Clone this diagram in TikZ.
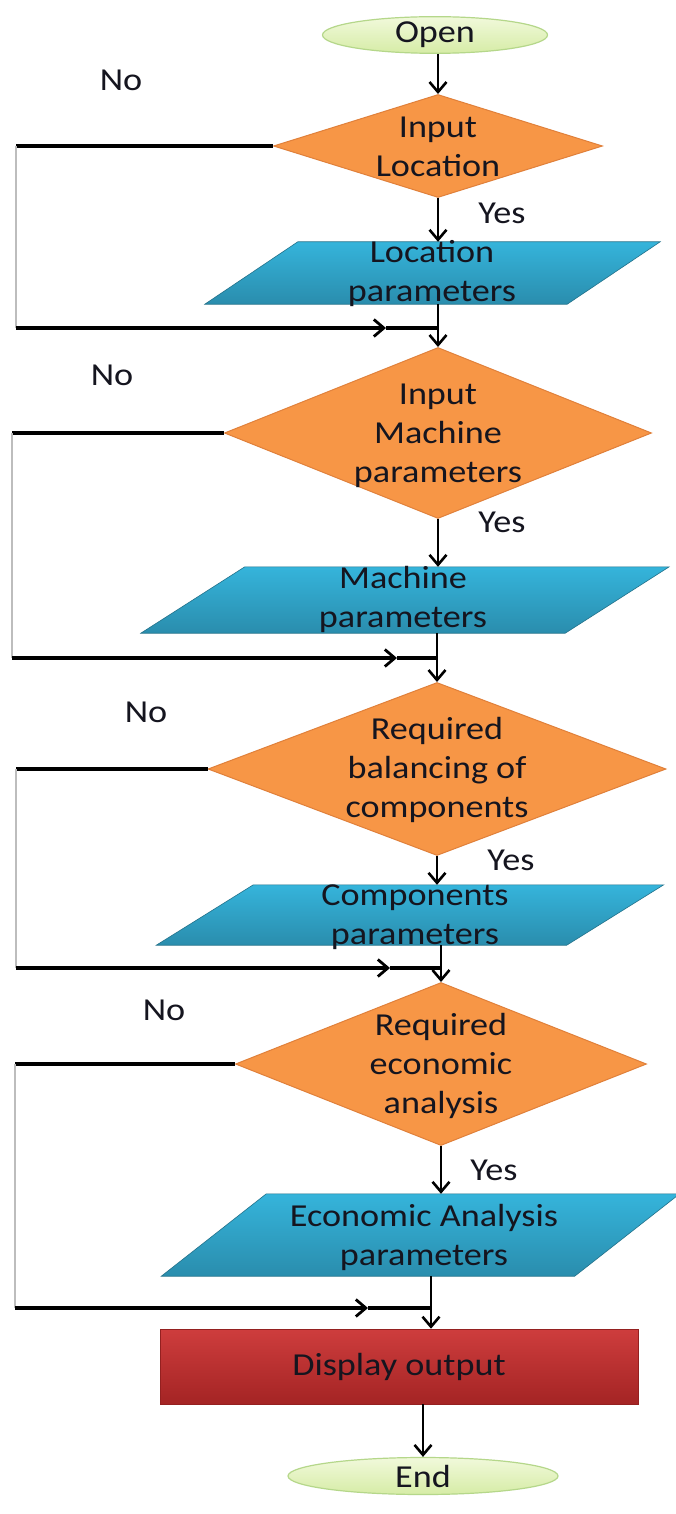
\documentclass[tikz,border=0pt]{standalone}
\usepackage{fontspec}
\setmainfont{Carlito}[FakeStretch=1.13]
\usetikzlibrary{arrows.meta,shapes.geometric,calc}
\definecolor{txtcol}{HTML}{15151F}
\definecolor{orfill}{HTML}{F79646}
\definecolor{ordraw}{HTML}{E0803A}
\definecolor{bltop}{HTML}{35B4DB}
\definecolor{blbot}{HTML}{2A8DAD}
\definecolor{grtop}{HTML}{F1F9DB}
\definecolor{grbot}{HTML}{D6ECA6}
\definecolor{grdraw}{HTML}{B5D78A}
\definecolor{rdtop}{HTML}{CE3D3D}
\definecolor{rdbot}{HTML}{A42424}
\definecolor{vgray}{HTML}{BDBDBD}
\newcommand{\paraShape}[2]{%
  \shade[top color=bltop,bottom color=blbot,draw=blbot!80!black,line width=0.6pt]
    ($(#1.north west)+(#2/2,0)$) -- ($(#1.north east)+(#2/2,0)$) --
    ($(#1.south east)+(-#2/2,0)$) -- ($(#1.south west)+(-#2/2,0)$) -- cycle;}
\begin{document}
\begin{tikzpicture}[x=1pt,y=-1pt,
  txt/.style={font=\fontsize{32}{39}\selectfont, align=center, text=txtcol, inner sep=0pt},
  term/.style={ellipse, draw=grdraw, line width=1.2pt, top color=grtop, bottom color=grbot,
    inner sep=0pt, text=txtcol, font=\fontsize{32}{39}\selectfont},
  dec/.style={diamond, draw=ordraw, fill=orfill, line width=1pt, inner sep=0pt},
  pbox/.style={rectangle, inner sep=0pt},
  outbox/.style={rectangle, top color=rdtop, bottom color=rdbot, draw=rdbot!90!black, line width=0.6pt, inner sep=0pt},
  arr/.style={line width=2.8pt, draw=black, -{Straight Barb[length=10pt,width=17pt,line width=2.6pt]}},
  trunk/.style={line width=2.8pt, draw=black},
  hline/.style={line width=3.6pt, draw=black},
  harr/.style={line width=3.6pt, draw=black, -{Straight Barb[length=10pt,width=17pt,line width=2.8pt]}},
  vline/.style={line width=1.6pt, draw=vgray}
]
\fill[white] (0,0) rectangle (675,1514);
\useasboundingbox (0,0) rectangle (675,1514);

% shapes
\node[term, minimum width=225pt, minimum height=36pt] (open) at (435,35) {Open};
\node[dec, minimum width=329pt, minimum height=103pt] (d1) at (438,146) {};
\node[pbox, minimum width=362pt, minimum height=62pt] (p1) at (432.5,273) {};
\paraShape{p1}{93}
\node[dec, minimum width=427pt, minimum height=171pt] (d2) at (438,433) {};
\node[pbox, minimum width=424pt, minimum height=66pt] (p2) at (405,600) {};
\paraShape{p2}{104}
\node[dec, minimum width=458pt, minimum height=173pt] (d3) at (437,769) {};
\node[pbox, minimum width=410pt, minimum height=60pt] (p3) at (410,915) {};
\paraShape{p3}{97}
\node[dec, minimum width=411pt, minimum height=163pt] (d4) at (441,1064) {};
\node[pbox, minimum width=413pt, minimum height=82pt] (p4) at (420.5,1235) {};
\paraShape{p4}{105}
\node[outbox, minimum width=478pt, minimum height=75pt] (disp) at (399,1366.5) {};
\node[term, minimum width=270pt, minimum height=37pt] (endn) at (423,1476) {End};

% texts
\node[txt] (t1) at (438,147) {Input\\Location};
\node[txt] (tp1) at (432,274) {Location\\parameters};
\node[txt] (t2) at (438,436) {Input\\Machine\\parameters};
\node[txt] (tp2) at (403,599) {Machine\\parameters};
\node[txt] (t3) at (437,770) {Required\\balancing of\\components};
\node[txt] (tp3) at (415,917) {Components\\parameters};
\node[txt] (t4) at (441,1066) {Required\\economic\\analysis};
\node[txt] (tp4) at (424,1237) {Economic Analysis\\parameters};
\node[txt] (td) at (399,1367) {Display output};

\node[txt] (no1) at (121,80) {No};
\node[txt] (no2) at (112,375) {No};
\node[txt] (no3) at (146,712) {No};
\node[txt] (no4) at (164,1010) {No};
\node[txt] (yes1) at (502,213) {Yes};
\node[txt] (yes2) at (502,522) {Yes};
\node[txt] (yes3) at (511,860) {Yes};
\node[txt] (yes4) at (494,1170) {Yes};

% coordinates
\coordinate (j1) at (d2.north |- 0,328);
\coordinate (j2) at (d3.north |- 0,658);
\coordinate (j3) at (d4.north |- 0,968);
\coordinate (j4) at (431,1308);
\coordinate (l1t) at (d1.west -| 16,0);
\coordinate (l1b) at (16,328);
\coordinate (m1) at (386,328);
\coordinate (l2t) at (d2.west -| 12,0);
\coordinate (l2b) at (12,658);
\coordinate (m2) at (397,658);
\coordinate (l3t) at (d3.west -| 16,0);
\coordinate (l3b) at (16,968);
\coordinate (m3) at (390,968);
\coordinate (l4t) at (d4.west -| 15,0);
\coordinate (l4b) at (15,1308);
\coordinate (m4) at (368,1308);

% main flow
\draw[arr] (d1.north |- open.south) -- (d1.north);
\draw[arr] (d1.south) -- (d1.south |- p1.north);
\draw[trunk] (j1 |- p1.south) -- (j1);
\draw[arr] (j1) -- (d2.north);
\draw[arr] (d2.south) -- (d2.south |- p2.north);
\draw[trunk] (j2 |- p2.south) -- (j2);
\draw[arr] (j2) -- (d3.north);
\draw[arr] (d3.south) -- (d3.south |- p3.north);
\draw[trunk] (j3 |- p3.south) -- (j3);
\draw[arr] (j3) -- (d4.north);
\draw[arr] (d4.south) -- (d4.south |- p4.north);
\draw[trunk] (j4 |- p4.south) -- (j4);
\draw[arr] (j4) -- (j4 |- disp.north);
\draw[arr] (disp.south -| endn.north) -- (endn.north);

% No loops
\draw[hline] (d1.west) -- (l1t);
\draw[vline] (l1t) -- (l1b);
\draw[hline] (m1) -- (j1);
\draw[harr] (l1b) -- (m1);

\draw[hline] (d2.west) -- (l2t);
\draw[vline] (l2t) -- (l2b);
\draw[hline] (m2) -- (j2);
\draw[harr] (l2b) -- (m2);

\draw[hline] (d3.west) -- (l3t);
\draw[vline] (l3t) -- (l3b);
\draw[hline] (m3) -- (j3);
\draw[harr] (l3b) -- (m3);

\draw[hline] (d4.west) -- (l4t);
\draw[vline] (l4t) -- (l4b);
\draw[hline] (m4) -- (j4);
\draw[harr] (l4b) -- (m4);
\end{tikzpicture}
\end{document}
